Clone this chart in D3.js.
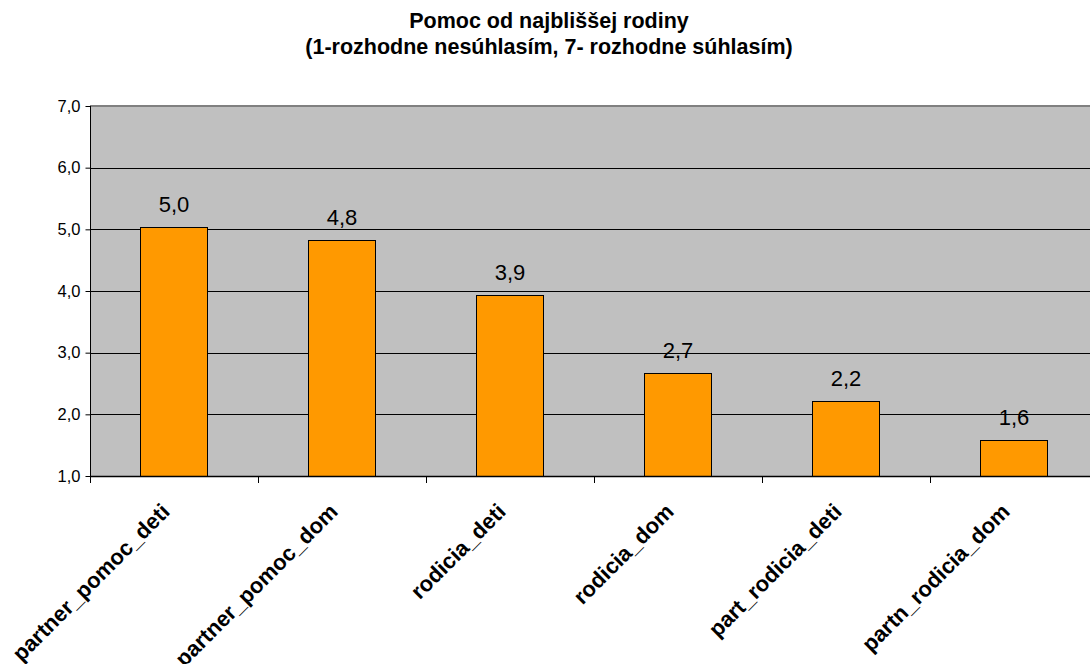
<!DOCTYPE html>
<html>
<head>
<meta charset="utf-8">
<script src="https://cdn.jsdelivr.net/npm/d3@7/dist/d3.min.js"></script>
<style>
  html, body { margin: 0; padding: 0; background: #ffffff; }
  svg { display: block; font-family: Arial, "Liberation Sans", sans-serif; }
</style>
</head>
<body>
<svg id="chart" width="1090" height="664"></svg>
<script>
// Chart content
const titleLines = ["Pomoc od najbliššej rodiny", "(1-rozhodne nesúhlasím, 7- rozhodne súhlasím)"];
const categories = ["partner_pomoc_deti", "partner_pomoc_dom", "rodicia_deti", "rodicia_dom", "part_rodicia_deti", "partn_rodicia_dom"];
const values = [5.03, 4.83, 3.93, 2.67, 2.22, 1.58];
const yTicks = [1, 2, 3, 4, 5, 6, 7];

const svg = d3.select("#chart");
const plot = { left: 90, right: 1098, top: 106, bottom: 476 };

const x = d3.scaleBand()
  .domain(categories)
  .range([plot.left, plot.right])
  .paddingInner(0.6)
  .paddingOuter(0.3);

const y = d3.scaleLinear()
  .domain([1, 7])
  .range([plot.bottom, plot.top]);

const fmt = v => d3.format(".1f")(v).replace(".", ",");

// Title
svg.append("g").selectAll("text")
  .data(titleLines)
  .join("text")
  .attr("x", 549)
  .attr("y", (d, i) => 28 + i * 26)
  .attr("text-anchor", "middle")
  .attr("font-weight", "bold")
  .attr("font-size", 21.5)
  .attr("fill", "#000")
  .text(d => d);

// Plot background
svg.append("rect")
  .attr("x", plot.left)
  .attr("y", plot.top)
  .attr("width", plot.right - plot.left)
  .attr("height", plot.bottom - plot.top)
  .attr("fill", "#c0c0c0");

// Grid lines
svg.append("g").selectAll("line")
  .data(yTicks.filter(t => t > 1 && t < 7))
  .join("line")
  .attr("x1", plot.left)
  .attr("x2", plot.right)
  .attr("y1", d => Math.round(y(d)) + 0.5)
  .attr("y2", d => Math.round(y(d)) + 0.5)
  .attr("stroke", "#000")
  .attr("stroke-width", 1);

// Top border of plot area
svg.append("line")
  .attr("x1", plot.left)
  .attr("x2", plot.right)
  .attr("y1", y(7))
  .attr("y2", y(7))
  .attr("stroke", "#808080")
  .attr("stroke-width", 2);

// Bars
svg.append("g").selectAll("rect")
  .data(values)
  .join("rect")
  .attr("x", (d, i) => Math.round(x(categories[i])) + 0.5)
  .attr("y", d => Math.round(y(d)) + 0.5)
  .attr("width", Math.round(x.bandwidth()))
  .attr("height", d => Math.round(y(1)) - Math.round(y(d)))
  .attr("fill", "#ff9900")
  .attr("stroke", "#000")
  .attr("stroke-width", 1);

// Value labels
svg.append("g").selectAll("text")
  .data(values)
  .join("text")
  .attr("x", (d, i) => x(categories[i]) + x.bandwidth() / 2)
  .attr("y", d => y(d) - 15)
  .attr("text-anchor", "middle")
  .attr("font-size", 22)
  .attr("fill", "#000")
  .text(d => fmt(d));

// Y axis
const yAxis = d3.axisLeft(y)
  .tickValues(yTicks)
  .tickSize(5)
  .tickPadding(5)
  .tickFormat(fmt);

const gy = svg.append("g")
  .attr("transform", `translate(${plot.left + 0.5},0)`)
  .call(yAxis);
gy.select(".domain").attr("stroke", "#000").attr("d", `M0,${plot.top}V${plot.bottom}`);
gy.selectAll(".tick line").attr("stroke", "#000");
gy.selectAll(".tick text")
  .attr("font-size", 16.5)
  .attr("font-family", "Arial, 'Liberation Sans', sans-serif")
  .attr("fill", "#000");

// X axis line with boundary ticks
const xAxisG = svg.append("g");
xAxisG.append("line")
  .attr("x1", plot.left)
  .attr("x2", plot.right)
  .attr("y1", plot.bottom + 0.5)
  .attr("y2", plot.bottom + 0.5)
  .attr("stroke", "#000")
  .attr("stroke-width", 1.5);

const boundaries = categories.map(c => x(c) - x.step() * x.paddingOuter());
xAxisG.selectAll("line.tick")
  .data(boundaries)
  .join("line")
  .attr("class", "tick")
  .attr("x1", d => Math.round(d) + 0.5)
  .attr("x2", d => Math.round(d) + 0.5)
  .attr("y1", plot.bottom)
  .attr("y2", plot.bottom + 7)
  .attr("stroke", "#000");

// Category labels, rotated
xAxisG.selectAll("text")
  .data(categories)
  .join("text")
  .attr("transform", d => `translate(${x(d) + x.bandwidth() / 2 - 3},${plot.bottom + 37}) rotate(-45)`)
  .attr("text-anchor", "end")
  .attr("font-weight", "bold")
  .attr("font-size", 22)
  .attr("fill", "#000")
  .text(d => d);
</script>
</body>
</html>
